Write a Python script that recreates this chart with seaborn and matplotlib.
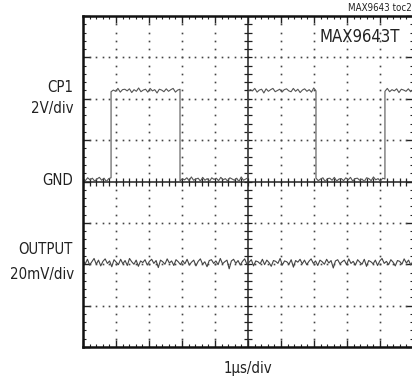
import numpy as np
import pandas as pd
import matplotlib
matplotlib.use("Agg")
import matplotlib.pyplot as plt
import seaborn as sns

# ---- data (time in divisions, amplitude in divisions) ----
cp1_edges = [0.0, 0.85, 2.94, 5.0, 7.06, 9.15, 10.0]
cp1_levels = [0.05, 2.2, 0.05, 2.2, 0.05, 2.2]
cp1_noise = [
    0.02, -0.03, 0.04, -0.01, 0.03, -0.04, 0.01, 0.05, -0.02, 0.03,
    -0.05, 0.02, 0.04, -0.03, 0.01, -0.02, 0.05, -0.04, 0.02, 0.03,
    -0.01, 0.04, -0.05, 0.02, -0.02, 0.06, -0.03, 0.01, 0.03, -0.04,
    0.05, -0.01, 0.02, -0.06, 0.03, 0.01, -0.03, 0.04, -0.02, 0.02,
    0.05, -0.04, 0.01, 0.03, -0.05, 0.02, -0.01, 0.04, -0.03, 0.06,
    -0.02, 0.01, 0.03, -0.04, 0.05, -0.02, 0.02, -0.05, 0.04, 0.00,
    0.03, -0.03, 0.05, -0.01, 0.02, -0.04, 0.04, 0.01, -0.02, 0.03,
    -0.05, 0.06, -0.02, 0.01, 0.04, -0.03, 0.02, -0.01, 0.05, -0.04,
    0.01, 0.03, -0.06, 0.04, -0.02, 0.02, 0.05, -0.03, 0.00, 0.03,
    -0.04, 0.02, 0.04, -0.01, -0.03, 0.05, -0.02, 0.03, -0.05, 0.01,
    0.04, -0.02, 0.02, -0.04, 0.06, -0.01, 0.03, -0.03, 0.01, 0.04,
    -0.05, 0.02, 0.03, -0.02, 0.05, -0.04, 0.01, 0.02, -0.03, 0.04,
    -0.01, 0.05, -0.04, 0.02, 0.03, -0.02, 0.01, -0.05, 0.04, 0.02,
    -0.03, 0.06, -0.01, 0.02, -0.04, 0.03, 0.01, -0.02, 0.05, -0.03,
    0.02, -0.01, 0.04, -0.05, 0.03, 0.01, -0.02, 0.04, -0.03, 0.02,
]
output_level = -1.96
output_noise = [
    0.05, -0.03, 0.08, -0.06, 0.02, 0.10, -0.04, 0.06, -0.08, 0.03,
    0.09, -0.02, 0.04, -0.10, 0.07, 0.01, -0.05, 0.08, -0.03, 0.05,
    -0.07, 0.10, 0.02, -0.04, 0.06, -0.09, 0.04, 0.00, 0.07, -0.06,
    0.03, 0.08, -0.02, 0.05, -0.12, 0.06, 0.02, -0.04, 0.09, -0.01,
    0.04, -0.07, 0.07, 0.02, -0.05, 0.05, -0.03, 0.08, -0.06, 0.01,
    0.06, -0.08, 0.03, 0.09, -0.04, 0.02, -0.10, 0.05, 0.07, -0.02,
    0.04, -0.05, 0.10, -0.03, 0.02, 0.06, -0.15, 0.04, 0.08, -0.02,
    0.05, -0.06, 0.03, 0.09, -0.04, 0.01, 0.07, -0.08, 0.04, 0.02,
    -0.03, 0.08, -0.05, 0.06, 0.00, -0.09, 0.05, 0.03, -0.02, 0.10,
    -0.06, 0.04, 0.02, -0.04, 0.07, -0.11, 0.05, 0.01, 0.08, -0.03,
    0.06, -0.05, 0.03, 0.09, -0.02, 0.04, -0.07, 0.06, 0.02, -0.04,
    0.08, -0.01, 0.05, -0.13, 0.04, 0.07, -0.03, 0.02, 0.06, -0.05,
    0.09, -0.02, 0.03, -0.06, 0.07, 0.01, -0.04, 0.08, -0.09, 0.05,
    0.02, -0.03, 0.06, -0.07, 0.04, 0.10, -0.02, 0.03, -0.05, 0.07,
    0.01, -0.08, 0.05, 0.03, -0.04, 0.09, -0.01, 0.06, -0.06, 0.04,
]

# ---- build traces ----
t_list, v_list = [], []
k = 0
for i, lvl in enumerate(cp1_levels):
    a, b = cp1_edges[i], cp1_edges[i + 1]
    n = max(2, int(round((b - a) * 15)))
    t_list.append(np.linspace(a, b, n))
    v_list.append(lvl + np.array(cp1_noise[k:k + n]))
    k += n
cp1_df = pd.DataFrame({"t": np.concatenate(t_list), "v": np.concatenate(v_list)})
out_df = pd.DataFrame({"t": np.linspace(0, 10, len(output_noise)),
                       "v": output_level + np.array(output_noise)})

# ---- figure ----
sns.set_style("white")
FONT = ["DejaVu Sans"]
plt.rcParams["font.family"] = FONT
plt.rcParams["font.stretch"] = "condensed"

W, H = 412, 377
fig = plt.figure(figsize=(W / 100, H / 100), dpi=100)
ax = fig.add_axes([83 / W, 30 / H, 330 / W, 331 / H])
ax.set_xlim(0, 10)
ax.set_ylim(-4, 4)

# dotted graticule
mx = np.arange(0, 10.001, 0.2)
my = np.arange(-4, 4.001, 0.2)
for yy in range(-3, 4):
    if yy == 0:
        continue
    ax.plot(mx, np.full_like(mx, yy), ls="none", marker="s", ms=1.2, color="#444", mew=0)
for xx in range(1, 10):
    if xx == 5:
        continue
    ax.plot(np.full_like(my, xx), my, ls="none", marker="s", ms=1.2, color="#444", mew=0)

# center axes with ticks
ax.axhline(0, color="#222", lw=1.1)
ax.axvline(5, color="#222", lw=1.1)
ax.plot(mx, np.zeros_like(mx), ls="none", marker="|", ms=6, mew=0.9, color="#222")
ax.plot(np.full_like(my, 5), my, ls="none", marker="_", ms=6, mew=0.9, color="#222")

# traces
sns.lineplot(data=cp1_df, x="t", y="v", ax=ax, color="#555", lw=0.8,
             estimator=None, sort=False)
sns.lineplot(data=out_df, x="t", y="v", ax=ax, color="#444", lw=0.8,
             estimator=None, sort=False)

# frame ticks
ax.set_xticks(np.arange(0, 11, 1))
ax.set_yticks(np.arange(-4, 5, 1))
ax.set_xticks(mx, minor=True)
ax.set_yticks(my, minor=True)
ax.tick_params(which="major", direction="in", length=5, width=1.0, color="#222",
               top=True, bottom=True, left=True, right=True,
               labelbottom=False, labelleft=False)
ax.tick_params(which="minor", direction="in", length=2.5, width=0.8, color="#222",
               top=True, bottom=True, left=True, right=True)
ax.set_xlabel("")
ax.set_ylabel("")
for s in ax.spines.values():
    s.set_linewidth(1.8)
    s.set_color("#111")

# texts
def ftxt(x, y, s, size, ha="right"):
    fig.text(x / W, 1 - y / H, s, ha=ha, va="center", fontsize=size,
             color="#222", family=FONT, stretch="condensed")

ftxt(73, 88, "CP1", 10.7)
ftxt(73, 108, "2V/div", 10.7)
ftxt(73, 181, "GND", 10.7)
ftxt(73, 250, "OUTPUT", 10.7)
ftxt(74, 274, "20mV/div", 10.7)
ftxt(248, 369, "1µs/div", 10.7, ha="center")
ftxt(348, 8, "MAX9643 toc20", 7, ha="left")
ftxt(360, 37, "MAX9643T", 12, ha="center")

fig.savefig("out.png", dpi=100)
